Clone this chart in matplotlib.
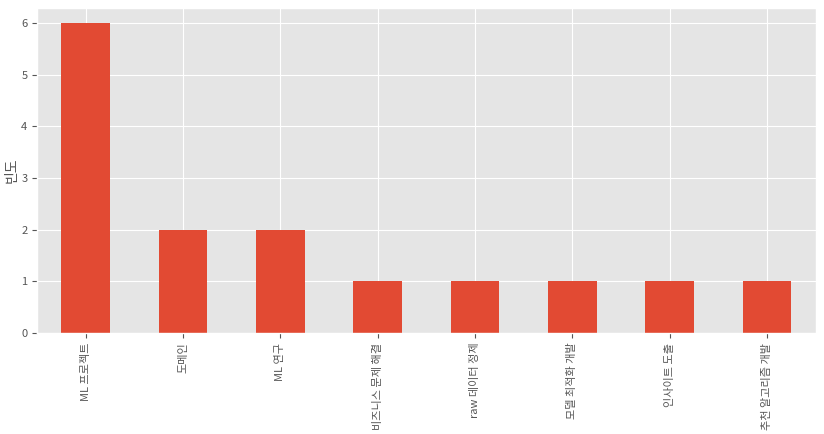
import matplotlib
matplotlib.use('Agg')
import matplotlib.pyplot as plt
import pandas as pd

plt.style.use('ggplot')
plt.rcParams['font.family'] = ['Noto Sans CJK KR', 'DejaVu Sans']
plt.rcParams['axes.unicode_minus'] = False

categories = ['ML 프로젝트', '도메인', 'ML 연구', '비즈니스 문제 해결', 'raw 데이터 정제',
              '모델 최적화 개발', '인사이트 도출', '추천 알고리즘 개발']
counts = [6, 2, 2, 1, 1, 1, 1, 1]

freq = pd.Series(counts, index=categories)

fig = plt.figure(figsize=(8.24, 4.34), dpi=100)
ax = fig.add_axes([0.045, 0.233, 0.945, 0.749])
freq.plot(kind='bar', ax=ax, color='#E24A33')
ax.set_ylabel('빈도', fontsize=10, labelpad=2)
ax.tick_params(axis='x', labelsize=8)
ax.tick_params(axis='y', labelsize=8)

fig.savefig('out.png', dpi=100)
